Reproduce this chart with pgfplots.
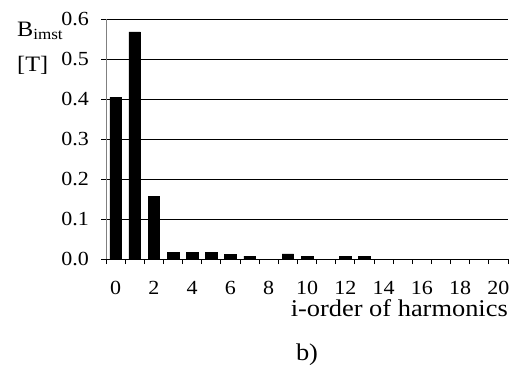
\documentclass[border=0pt]{standalone}
\usepackage{pgfplots}
\pgfplotsset{compat=1.18}
\usepackage{fontspec}
\setmainfont[FakeStretch=1.1]{Liberation Serif}
\begin{document}
\begin{tikzpicture}[x=1pt,y=1pt]
\path[use as bounding box] (0,0) rectangle (516,367);
\begin{axis}[
  at={(106pt,108pt)}, anchor=south west,
  scale only axis, width=402pt, height=240pt,
  xmin=-0.5, xmax=20.5, ymin=0, ymax=0.6,
  axis x line*=bottom, axis y line*=left,
  x axis line style={black, line width=0.8pt},
  y axis line style={gray, line width=0.8pt},
  ytick={0,0.1,0.2,0.3,0.4,0.5,0.6},
  yticklabel style={/pgf/number format/fixed, /pgf/number format/fixed zerofill, /pgf/number format/precision=1, xshift=-8.7pt},
  /pgf/number format/assume math mode=true,
  ymajorgrids, grid style={black, line width=0.7pt},
  tick align=outside, major tick length=5pt,
  tick style={black, line width=0.8pt},
  xtick={-0.5,0.5,1.5,2.5,3.5,4.5,5.5,6.5,7.5,8.5,9.5,10.5,11.5,12.5,13.5,14.5,15.5,16.5,17.5,18.5,19.5,20.5},
  xticklabels={},
  extra x ticks={0,2,4,6,8,10,12,14,16,18,20},
  extra x tick style={major tick length=0pt, xticklabel style={yshift=-19pt}},
  ticklabel style={font=\fontsize{20}{24}\selectfont},
  clip=false,
]
\addplot[ybar, bar width=11.5pt, fill=black, draw=black] coordinates {
(0,0.404) (1,0.568) (2,0.157) (3,0.017) (4,0.017) (5,0.017) (6,0.012) (7,0.007)
(8,0) (9,0.013) (10,0.006) (11,0) (12,0.006) (13,0.006) (14,0) (15,0) (16,0)
(17,0) (18,0) (19,0) (20,0)};
\node[anchor=base east, font=\fontsize{24}{28}\selectfont, inner sep=0pt] at (rel axis cs:1,0) [yshift=-57pt] {i-order of harmonics};
\node[anchor=base, font=\fontsize{24}{28}\selectfont, inner sep=0pt] at (rel axis cs:0.5,0) [yshift=-101pt] {b)};
\end{axis}
\node[anchor=base west, inner sep=0pt, font=\fontsize{22}{26}\selectfont] at (17,330) {B\raisebox{-3pt}{\fontsize{15.5}{16}\selectfont imst}};
\node[anchor=base west, inner sep=0pt, font=\fontsize{22}{26}\selectfont] at (17,295) {[T]};
\end{tikzpicture}
\end{document}
